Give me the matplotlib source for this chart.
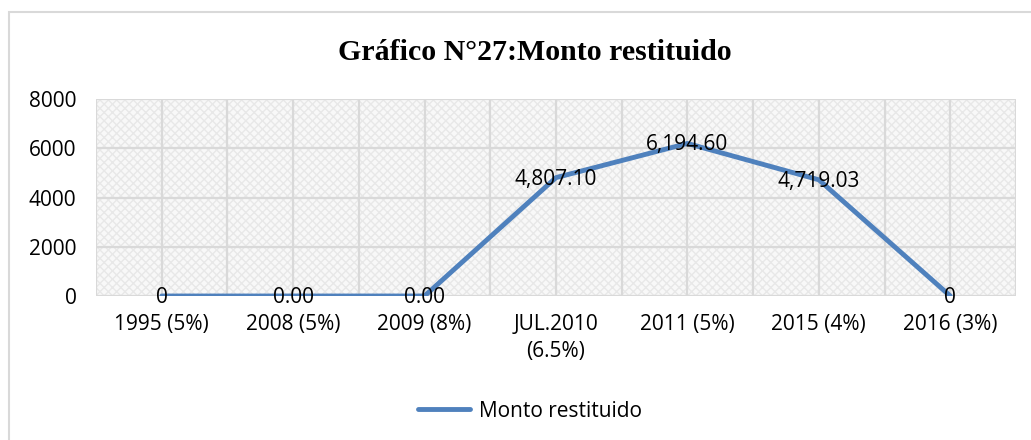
import numpy as np
import matplotlib.pyplot as plt
from matplotlib.patches import Rectangle

categories = ['1995 (5%)', '2008 (5%)', '2009 (8%)', 'JUL.2010\n(6.5%)',
              '2011 (5%)', '2015 (4%)', '2016 (3%)']
values = [0, 0, 0, 4807.10, 6194.60, 4719.03, 0]
point_labels = ['0', '0.00', '0.00', '4,807.10', '6,194.60', '4,719.03', '0']
yticks = [0, 2000, 4000, 6000, 8000]

W, H = 1031, 440
fig = plt.figure(figsize=(W / 100, H / 100), dpi=100)

# outer chart border (right and bottom edges fall outside the image)
fig.patches.append(Rectangle((9 / W, -0.2), 1.2, 1.2 - 12 / H, transform=fig.transFigure,
                             fill=False, edgecolor='#d9d9d9', linewidth=1.5))

ax = fig.add_axes([96 / W, 1 - 296 / H, (1016 - 96) / W, (296 - 99) / H])
ax.set_facecolor('#f8f8f8')
ax.add_patch(Rectangle((0, 0), 1, 1, transform=ax.transAxes, facecolor='none',
                       edgecolor='#e8e8e8', hatch='xxxx', linewidth=0, zorder=0))

x = np.arange(len(categories))
ax.set_xlim(-0.5, len(categories) - 0.5)
ax.set_ylim(0, 8000)

# gridlines at category centres and boundaries
for gx in np.arange(-0.5, len(categories), 0.5):
    ax.axvline(gx, color='#d9d9d9', linewidth=1.6, zorder=1)
for gy in yticks:
    ax.axhline(gy, color='#d9d9d9', linewidth=1.6, zorder=1)

ax.plot(x, values, color='#4f81bd', linewidth=3.5, zorder=3, solid_capstyle='round',
        label='Monto restituido')

for xi, v, lab in zip(x, values, point_labels):
    ax.annotate(lab, (xi, v), xytext=(0, -1), textcoords='offset points',
                ha='center', va='center', fontsize=15,
                family='Open Sans', color='#000000', zorder=4)

for s in ax.spines.values():
    s.set_visible(False)

ax.set_xticks(x)
ax.set_xticklabels(categories, fontsize=15, family='Open Sans', linespacing=1.4)
ax.set_yticks(yticks)
ax.set_yticklabels([str(t) for t in yticks], fontsize=15, family='Open Sans')
ax.tick_params(axis='x', length=0, pad=13)
ax.tick_params(axis='y', length=0, pad=14)

fig.text(535 / W, 1 - 52 / H, 'Gráfico N°27:Monto restituido', ha='center', va='center',
         fontsize=21.5, fontweight='bold', family='Liberation Serif')

leg = fig.legend(loc='center', bbox_to_anchor=(530 / W, 1 - 411 / H), frameon=False,
                 prop={'family': 'Open Sans', 'size': 15}, handlelength=2.5,
                 handletextpad=0.45)

fig.savefig('out.png', dpi=100)
